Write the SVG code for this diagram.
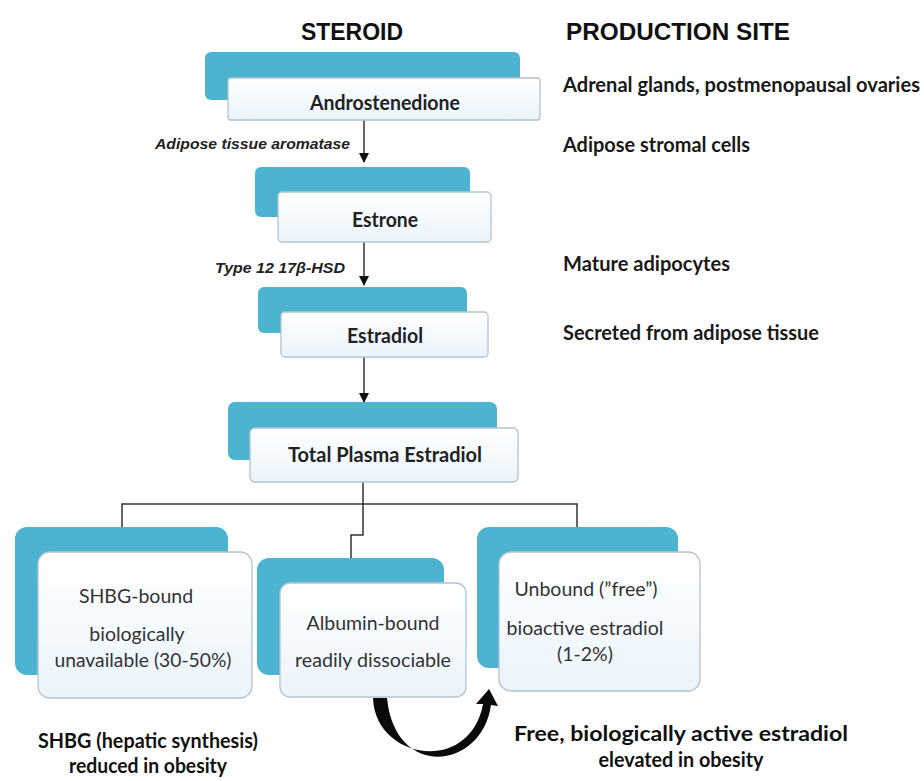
<svg xmlns="http://www.w3.org/2000/svg" width="924" height="781" viewBox="0 0 924 781">
<defs>
<linearGradient id="wg" x1="0" y1="0" x2="0" y2="1">
<stop offset="0" stop-color="#ffffff"/>
<stop offset="1" stop-color="#eaf4fb"/>
</linearGradient>
<marker id="ah" viewBox="0 0 10 10" refX="9" refY="5" markerWidth="10" markerHeight="10" markerUnits="userSpaceOnUse" orient="auto">
<path d="M0,0 L10,5 L0,10 z" fill="#111"/>
</marker>
</defs>
<style>
.blue{fill:#4cb4d0;}
.white{fill:url(#wg);stroke:#b3c3d1;stroke-width:1.3;}
.hdr{font-family:"Liberation Sans",Arial,sans-serif;font-weight:bold;font-size:23px;fill:#111;}
.site{font-family:Lato,"Liberation Sans",sans-serif;font-weight:bold;font-size:20px;fill:#1a1a1a;}
.bt{font-family:Lato,"Liberation Sans",sans-serif;font-weight:bold;font-size:20px;fill:#222;text-anchor:middle;}
.rt{font-family:Lato,"Liberation Sans",sans-serif;font-size:19.5px;fill:#333;text-anchor:middle;}
.enz{font-family:"Liberation Sans",Arial,sans-serif;font-weight:bold;font-style:italic;font-size:14px;fill:#222;text-anchor:end;}
.ft{font-family:Lato,"Liberation Sans",sans-serif;font-weight:bold;font-size:21px;fill:#111;text-anchor:middle;}
.conn{fill:none;stroke:#333;stroke-width:1.5;}
</style>
<rect width="924" height="781" fill="#ffffff"/>

<text class="hdr" x="352" y="40" text-anchor="middle">STEROID</text>
<text class="hdr" x="566" y="40" textLength="224" lengthAdjust="spacingAndGlyphs">PRODUCTION SITE</text>

<g id="site-labels">
<text class="site" x="563" y="92" textLength="357" lengthAdjust="spacingAndGlyphs">Adrenal glands, postmenopausal ovaries</text>
<text class="site" x="563" y="152" textLength="187" lengthAdjust="spacingAndGlyphs">Adipose stromal cells</text>
<text class="site" x="563" y="271" textLength="167" lengthAdjust="spacingAndGlyphs">Mature adipocytes</text>
<text class="site" x="563" y="340" textLength="256" lengthAdjust="spacingAndGlyphs">Secreted from adipose tissue</text>
</g>

<g id="connectors">
<line class="conn" x1="364" y1="120" x2="364" y2="162" marker-end="url(#ah)"/>
<line class="conn" x1="364" y1="242" x2="364" y2="285" marker-end="url(#ah)"/>
<line class="conn" x1="364" y1="357" x2="364" y2="402" marker-end="url(#ah)"/>
<path class="conn" d="M363,482 V504 M122,528 V504 H577 V528 M363,504 V535 H351 V559"/>
<text class="enz" x="350" y="149" textLength="195" lengthAdjust="spacingAndGlyphs">Adipose tissue aromatase</text>
<text class="enz" x="345" y="273" textLength="130" lengthAdjust="spacingAndGlyphs">Type 12 17β-HSD</text>
<path d="M373,698 C375,760 470,775 483,704 L476,704 L489,689 L498,706 L491,705 C482,770 395,780 387,698 Z" fill="#0a0a0a"/>
</g>

<g id="androstenedione">
<rect class="blue" x="205" y="52" width="315" height="48" rx="6"/>
<rect class="white" x="228" y="78" width="312" height="42" rx="3"/>
<text class="bt" x="385" y="110" textLength="150" lengthAdjust="spacingAndGlyphs">Androstenedione</text>
</g>

<g id="estrone">
<rect class="blue" x="255" y="167" width="215" height="50" rx="6"/>
<rect class="white" x="278" y="192" width="213" height="50" rx="4"/>
<text class="bt" x="385" y="227" textLength="66" lengthAdjust="spacingAndGlyphs">Estrone</text>
</g>

<g id="estradiol">
<rect class="blue" x="258" y="287" width="209" height="46" rx="6"/>
<rect class="white" x="281" y="312" width="207" height="45" rx="4"/>
<text class="bt" x="385" y="343" textLength="76" lengthAdjust="spacingAndGlyphs">Estradiol</text>
</g>

<g id="total-plasma-estradiol">
<rect class="blue" x="228" y="402" width="269" height="58" rx="7"/>
<rect class="white" x="250" y="428" width="268" height="54" rx="5"/>
<text class="bt" x="385" y="462" textLength="194" lengthAdjust="spacingAndGlyphs">Total Plasma Estradiol</text>
</g>

<g id="shbg-bound">
<rect class="blue" x="15" y="527" width="213" height="148" rx="12"/>
<rect class="white" x="38" y="552" width="214" height="146" rx="12"/>
<text class="rt" x="136" y="603">SHBG-bound</text>
<text class="rt" x="137" y="641">biologically</text>
<text class="rt" x="143" y="667" textLength="177" lengthAdjust="spacingAndGlyphs">unavailable (30-50%)</text>
</g>

<g id="albumin-bound">
<rect class="blue" x="257" y="558" width="187" height="117" rx="12"/>
<rect class="white" x="280" y="583" width="186" height="114" rx="10"/>
<text class="rt" x="373" y="630">Albumin-bound</text>
<text class="rt" x="373" y="667" textLength="156" lengthAdjust="spacingAndGlyphs">readily dissociable</text>
</g>

<g id="unbound">
<rect class="blue" x="477" y="527" width="201" height="141" rx="12"/>
<rect class="white" x="499" y="552" width="201" height="139" rx="12"/>
<text class="rt" x="586" y="596">Unbound (”free”)</text>
<text class="rt" x="585" y="635" textLength="157" lengthAdjust="spacingAndGlyphs">bioactive estradiol</text>
<text class="rt" x="585" y="661">(1-2%)</text>
</g>

<g id="footnotes">
<text class="ft" x="148" y="748" textLength="220" lengthAdjust="spacingAndGlyphs">SHBG (hepatic synthesis)</text>
<text class="ft" x="148" y="773" textLength="158" lengthAdjust="spacingAndGlyphs">reduced in obesity</text>
<text class="ft" x="681" y="741" textLength="334" lengthAdjust="spacingAndGlyphs">Free, biologically active estradiol</text>
<text class="ft" x="681" y="767" textLength="165" lengthAdjust="spacingAndGlyphs">elevated in obesity</text>
</g>
</svg>
